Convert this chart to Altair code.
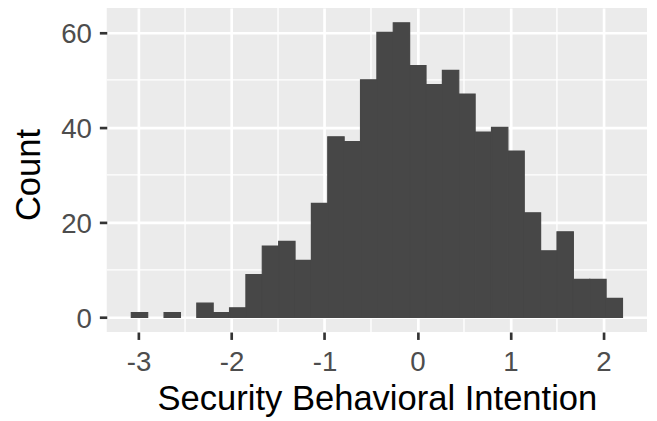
import altair as alt
import pandas as pd

# Histogram (30 bins) of Security Behavioral Intention
bin_start = -3.078
bin_width = 0.1761
counts = [1, 0, 1, 0, 3, 1, 2, 9, 15, 16, 12, 24, 38, 37, 50,
          60, 62, 53, 49, 52, 47, 39, 40, 35, 22, 14, 18, 8, 8, 4]

x_ticks = [-3, -2, -1, 0, 1, 2]
x_minor = [-2.5, -1.5, -0.5, 0.5, 1.5]
y_ticks = [0, 20, 40, 60]
y_minor = [10, 30, 50]

x_domain = [-3.342, 2.469]
y_domain = [-3.1, 65.1]

bars = pd.DataFrame({
    "x0": [bin_start + i * bin_width for i in range(len(counts))],
    "x1": [bin_start + (i + 1) * bin_width for i in range(len(counts))],
    "count": counts,
    "base": [0] * len(counts),
})
bars = bars[bars["count"] > 0]

xs = alt.Scale(domain=x_domain, nice=False, zero=False)
ys = alt.Scale(domain=y_domain, nice=False, zero=False)

GRID = "#FFFFFF"
BAR = "#474747"

x_axis = alt.Axis(values=x_ticks, grid=True, gridColor=GRID, gridWidth=2.7,
                  domain=False, tickColor="#333333", tickWidth=2.7, tickSize=7.5,
                  labelFontSize=28, labelColor="#4D4D4D", labelPadding=9,
                  labelExpr="'' + datum.value",
                  labelFont="Liberation Sans", title="Security Behavioral Intention",
                  titleFont="Liberation Sans", titleFontSize=35, titleFontWeight="normal",
                  titleColor="#000000", titleBaseline="alphabetic", titleY=78)
y_axis = alt.Axis(values=y_ticks, grid=True, gridColor=GRID, gridWidth=2.7,
                  domain=False, tickColor="#333333", tickWidth=2.7, tickSize=7.5,
                  labelFontSize=28, labelColor="#4D4D4D", labelPadding=8,
                  labelOffset=2, labelFont="Liberation Sans", title="Count",
                  titleFont="Liberation Sans", titleFontSize=35, titleFontWeight="normal",
                  titleColor="#000000", titleBaseline="middle", titleAngle=270,
                  titleX=-79, titleY=168.5)

minor_x = alt.Chart(pd.DataFrame({"v": x_minor})).mark_rule(
    color=GRID, strokeWidth=1.35).encode(x=alt.X("v:Q", scale=xs, axis=x_axis))
minor_y = alt.Chart(pd.DataFrame({"v": y_minor})).mark_rule(
    color=GRID, strokeWidth=1.35).encode(y=alt.Y("v:Q", scale=ys, axis=y_axis))

hist = alt.Chart(bars).mark_rect(color=BAR, stroke=BAR, strokeWidth=1.2).encode(
    x=alt.X("x0:Q", scale=xs, axis=x_axis),
    x2="x1:Q",
    y=alt.Y("count:Q", scale=ys, axis=y_axis),
    y2="base:Q",
)

chart = alt.layer(minor_x, minor_y, hist).properties(
    width=547, height=328,
    padding={"left": 100, "top": -2.5, "right": 2, "bottom": 88},
    autosize=alt.AutoSizeParams(type="none"),
    background="#FFFFFF",
).configure_view(fill="#EBEBEB", strokeWidth=0)

chart.save("out.html", embed_options={"renderer": "svg", "actions": False})
